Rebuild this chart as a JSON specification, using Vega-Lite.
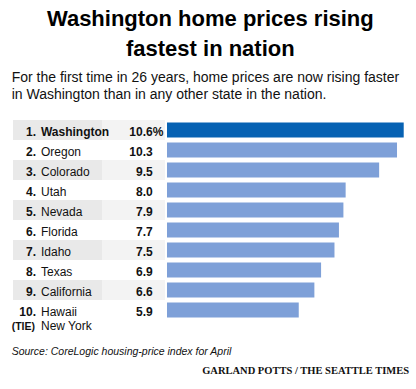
{
  "$schema": "https://vega.github.io/schema/vega-lite/v6.json",
  "background": "white",
  "padding": {"left": 11, "top": 8, "right": 9, "bottom": 10},
  "config": {
    "view": {"stroke": null},
    "font": "Liberation Sans",
    "concat": {"spacing": 0},
    "text": {"color": "#111111"}
  },
  "title": {
    "text": ["Washington home prices rising", "fastest in nation"],
    "anchor": "middle",
    "fontSize": 22,
    "fontWeight": "bold",
    "lineHeight": 29.6,
    "color": "#000000",
    "offset": 10
  },
  "vconcat": [
    {
      "title": {
        "text": "GARLAND POTTS / THE SEATTLE TIMES",
        "orient": "bottom",
        "anchor": "end",
        "font": "Liberation Serif",
        "fontSize": 10.5,
        "fontWeight": "bold",
        "color": "#111111",
        "offset": 8
      },
      "vconcat": [
        {
          "title": {
            "text": "Source: CoreLogic housing-price index for April",
            "orient": "bottom",
            "anchor": "start",
            "fontSize": 10.5,
            "fontStyle": "italic",
            "fontWeight": "normal",
            "color": "#111111",
            "offset": 15
          },
          "vconcat": [
            {
              "width": 396,
              "height": 200,
              "title": {
                "text": ["For the first time in 26 years, home prices are now rising faster", "in Washington than in any other state in the nation."],
                "anchor": "start",
                "fontSize": 14,
                "fontWeight": "normal",
                "lineHeight": 17,
                "color": "#111111",
                "offset": 18
              },
              "data": {
                "values": [
                  {"rank": 1, "label": "1.", "state": "Washington", "value": 10.6},
                  {"rank": 2, "label": "2.", "state": "Oregon", "value": 10.3},
                  {"rank": 3, "label": "3.", "state": "Colorado", "value": 9.5},
                  {"rank": 4, "label": "4.", "state": "Utah", "value": 8.0},
                  {"rank": 5, "label": "5.", "state": "Nevada", "value": 7.9},
                  {"rank": 6, "label": "6.", "state": "Florida", "value": 7.7},
                  {"rank": 7, "label": "7.", "state": "Idaho", "value": 7.5},
                  {"rank": 8, "label": "8.", "state": "Texas", "value": 6.9},
                  {"rank": 9, "label": "9.", "state": "California", "value": 6.6},
                  {"rank": 10, "label": "10.", "state": "Hawaii", "value": 5.9, "tie": "New York", "tieLabel": "(TIE)"}
                ]
              },
              "encoding": {
                "y": {
                  "field": "state",
                  "type": "nominal",
                  "sort": {"field": "rank", "order": "ascending"},
                  "axis": null,
                  "scale": {"paddingInner": 0, "paddingOuter": 0}
                }
              },
              "layer": [
                {
                  "transform": [{"filter": "datum.rank % 2 == 1"}],
                  "mark": {"type": "rect", "color": "#e9e9e9"},
                  "encoding": {
                    "x": {"datum": -6.896, "type": "quantitative", "axis": null},
                    "x2": {"datum": -2.911}
                  }
                },
                {
                  "transform": [{"filter": "datum.rank % 2 == 1"}],
                  "mark": {"type": "rect", "color": "#f3f3f3"},
                  "encoding": {
                    "x": {"datum": -2.911, "type": "quantitative", "axis": null},
                    "x2": {"datum": -0.09}
                  }
                },
                {
                  "mark": {"type": "bar", "height": {"band": 0.75}},
                  "encoding": {
                    "x": {
                      "field": "value",
                      "type": "quantitative",
                      "scale": {"domain": [-6.896, 10.837], "nice": false, "zero": false},
                      "axis": null
                    },
                    "x2": {"datum": 0},
                    "color": {
                      "condition": {"test": "datum.rank === 1", "value": "#0762b3"},
                      "value": "#7ea0d8"
                    }
                  }
                },
                {
                  "mark": {"type": "text", "align": "right", "baseline": "alphabetic", "dy": 5.5, "fontSize": 12, "fontWeight": "bold"},
                  "encoding": {
                    "x": {"datum": -5.866, "type": "quantitative", "axis": null},
                    "text": {"field": "label"}
                  }
                },
                {
                  "transform": [{"filter": "datum.rank == 1"}],
                  "mark": {"type": "text", "align": "left", "baseline": "alphabetic", "dy": 5.5, "fontSize": 12, "fontWeight": "bold"},
                  "encoding": {
                    "x": {"datum": -5.643, "type": "quantitative", "axis": null},
                    "text": {"field": "state"}
                  }
                },
                {
                  "transform": [{"filter": "datum.rank != 1"}],
                  "mark": {"type": "text", "align": "left", "baseline": "alphabetic", "dy": 5.5, "fontSize": 12, "fontWeight": "normal"},
                  "encoding": {
                    "x": {"datum": -5.643, "type": "quantitative", "axis": null},
                    "text": {"field": "state"}
                  }
                },
                {
                  "mark": {"type": "text", "align": "right", "baseline": "alphabetic", "dy": 5.5, "fontSize": 12, "fontWeight": "bold"},
                  "encoding": {
                    "x": {"datum": -0.64, "type": "quantitative", "axis": null},
                    "text": {"field": "value", "type": "quantitative", "format": ".1f"}
                  }
                },
                {
                  "transform": [{"filter": "datum.rank == 1"}],
                  "mark": {"type": "text", "align": "left", "baseline": "alphabetic", "dy": 5.5, "fontSize": 12, "fontWeight": "bold", "text": "%"},
                  "encoding": {
                    "x": {"datum": -0.64, "type": "quantitative", "axis": null}
                  }
                },
                {
                  "transform": [{"filter": "datum.rank == 10"}],
                  "mark": {"type": "text", "align": "right", "baseline": "alphabetic", "dy": 19.5, "fontSize": 10.5, "fontWeight": "bold"},
                  "encoding": {
                    "x": {"datum": -5.911, "type": "quantitative", "axis": null},
                    "text": {"field": "tieLabel"}
                  }
                },
                {
                  "transform": [{"filter": "datum.rank == 10"}],
                  "mark": {"type": "text", "align": "left", "baseline": "alphabetic", "dy": 19.5, "fontSize": 12, "fontWeight": "normal"},
                  "encoding": {
                    "x": {"datum": -5.643, "type": "quantitative", "axis": null},
                    "text": {"field": "tie"}
                  }
                }
              ]
            }
          ]
        }
      ]
    }
  ]
}
